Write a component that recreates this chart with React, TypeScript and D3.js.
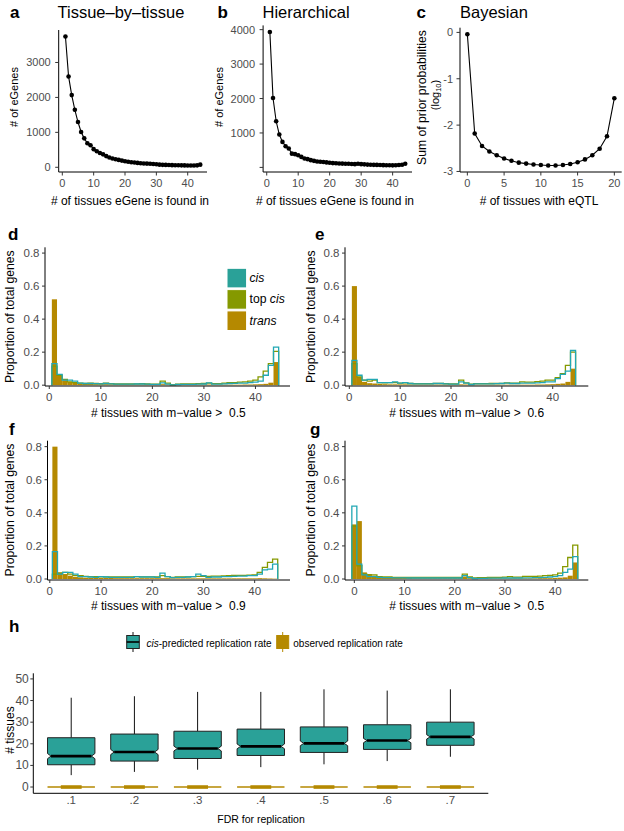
import React from "react";
import * as d3 from "d3";

const FONT = '"Liberation Sans", Arial, Helvetica, sans-serif';
const TEAL = "#2aa198";
const TEAL_LINE = "#22a8b4";
const GREEN = "#859900";
const GOLD = "#b58900";
const GREY = "#4d4d4d";

// ---------- Panel a / b / c data ----------
const tissueCountsA = [3745, 2600, 2067, 1645, 1296, 1010, 828, 690, 630, 520, 460, 410, 370, 320, 280, 250, 232, 212, 192, 172, 158, 146, 136, 126, 116, 110, 105, 100, 95, 86, 76, 70, 68, 65, 62, 60, 58, 56, 54, 52, 50, 50, 56, 76];
const tissueCountsB = [3930, 2015, 1340, 955, 740, 615, 550, 400, 385, 355, 305, 260, 240, 210, 190, 170, 165, 155, 145, 135, 125, 120, 115, 110, 105, 105, 100, 95, 105, 95, 88, 82, 78, 74, 72, 68, 66, 64, 62, 60, 62, 68, 78, 105];
const bayesTissues = [0, 1, 2, 3, 4, 5, 6, 7, 8, 9, 10, 11, 12, 13, 14, 15, 16, 17, 18, 19, 20];
const bayesLogPrior = [-0.04, -2.18, -2.45, -2.57, -2.65, -2.72, -2.77, -2.81, -2.83, -2.85, -2.86, -2.87, -2.87, -2.86, -2.84, -2.80, -2.74, -2.65, -2.51, -2.24, -1.42];

const ticksA = [0, 10, 20, 30, 40];
const ticksAy = [0, 1000, 2000, 3000];
const ticksBy = [0, 1000, 2000, 3000, 4000];
const ticksC = [0, 5, 10, 15, 20];
const ticksCy = [0, -1, -2, -3];

// ---------- Histogram data (proportion of total genes) ----------
const dTrans = [0.52, 0.06, 0.03, 0.02, 0.015, 0.01, 0.008, 0.007, 0.006, 0.006, 0.006, 0.005, 0.005, 0.005, 0.005, 0.004, 0.004, 0.004, 0.004, 0.004, 0.004, 0.006, 0.004, 0.003, 0.003, 0.003, 0.003, 0.003, 0.003, 0.003, 0.004, 0.003, 0.003, 0.003, 0.003, 0.003, 0.003, 0.004, 0.004, 0.005, 0.006, 0.008, 0.015, 0.14];
const dCis = [0.13, 0.065, 0.03, 0.03, 0.025, 0.012, 0.01, 0.01, 0.009, 0.008, 0.01, 0.008, 0.006, 0.006, 0.006, 0.006, 0.007, 0.007, 0.006, 0.005, 0.005, 0.014, 0.006, 0.002, 0.004, 0.005, 0.005, 0.005, 0.006, 0.007, 0.014, 0.006, 0.006, 0.008, 0.01, 0.011, 0.012, 0.013, 0.015, 0.018, 0.025, 0.06, 0.12, 0.23];
const dTop = [0.115, 0.06, 0.035, 0.02, 0.016, 0.012, 0.01, 0.012, 0.01, 0.009, 0.012, 0.009, 0.007, 0.007, 0.007, 0.007, 0.008, 0.009, 0.007, 0.006, 0.006, 0.025, 0.012, 0.003, 0.006, 0.007, 0.007, 0.008, 0.009, 0.01, 0.012, 0.009, 0.009, 0.013, 0.015, 0.016, 0.018, 0.02, 0.024, 0.03, 0.05, 0.085, 0.13, 0.205];

const eTrans = [0.60, 0.05, 0.02, 0.012, 0.01, 0.008, 0.006, 0.005, 0.005, 0.005, 0.005, 0.004, 0.004, 0.004, 0.004, 0.004, 0.004, 0.004, 0.004, 0.004, 0.004, 0.005, 0.004, 0.003, 0.003, 0.003, 0.003, 0.003, 0.003, 0.003, 0.003, 0.003, 0.003, 0.003, 0.003, 0.003, 0.004, 0.004, 0.005, 0.006, 0.008, 0.01, 0.02, 0.10];
const eCis = [0.15, 0.06, 0.03, 0.035, 0.035, 0.015, 0.015, 0.015, 0.02, 0.012, 0.015, 0.01, 0.008, 0.008, 0.008, 0.008, 0.01, 0.01, 0.008, 0.006, 0.006, 0.02, 0.012, 0.004, 0.008, 0.008, 0.008, 0.008, 0.009, 0.01, 0.012, 0.01, 0.01, 0.012, 0.012, 0.013, 0.014, 0.016, 0.02, 0.02, 0.04, 0.065, 0.085, 0.21];
const eTop = [0.13, 0.05, 0.03, 0.025, 0.03, 0.016, 0.014, 0.015, 0.015, 0.012, 0.014, 0.01, 0.009, 0.009, 0.009, 0.009, 0.011, 0.011, 0.009, 0.008, 0.008, 0.03, 0.014, 0.006, 0.009, 0.009, 0.009, 0.01, 0.01, 0.011, 0.014, 0.012, 0.012, 0.02, 0.018, 0.018, 0.022, 0.025, 0.03, 0.03, 0.045, 0.07, 0.12, 0.20];

const fTrans = [0.80, 0.04, 0.03, 0.02, 0.012, 0.01, 0.008, 0.007, 0.007, 0.006, 0.006, 0.006, 0.005, 0.005, 0.005, 0.005, 0.005, 0.005, 0.005, 0.005, 0.005, 0.005, 0.005, 0.004, 0.004, 0.004, 0.004, 0.004, 0.004, 0.004, 0.004, 0.004, 0.004, 0.004, 0.004, 0.004, 0.004, 0.004, 0.004, 0.004, 0.005, 0.004, 0.003, 0.002];
const fCis = [0.165, 0.03, 0.04, 0.04, 0.03, 0.015, 0.015, 0.012, 0.01, 0.015, 0.012, 0.01, 0.01, 0.01, 0.01, 0.01, 0.015, 0.012, 0.012, 0.012, 0.01, 0.035, 0.015, 0.008, 0.01, 0.01, 0.012, 0.014, 0.03, 0.02, 0.01, 0.012, 0.012, 0.014, 0.014, 0.016, 0.018, 0.018, 0.02, 0.02, 0.03, 0.055, 0.06, 0.09];
const fTop = [0.03, 0.035, 0.04, 0.03, 0.02, 0.02, 0.016, 0.015, 0.014, 0.013, 0.013, 0.012, 0.012, 0.012, 0.012, 0.012, 0.014, 0.013, 0.013, 0.013, 0.012, 0.02, 0.015, 0.01, 0.012, 0.012, 0.013, 0.015, 0.016, 0.016, 0.016, 0.017, 0.018, 0.019, 0.02, 0.022, 0.022, 0.022, 0.024, 0.025, 0.04, 0.07, 0.1, 0.12];

const gTrans = [0.33, 0.35, 0.04, 0.03, 0.02, 0.012, 0.01, 0.008, 0.007, 0.007, 0.006, 0.006, 0.005, 0.005, 0.005, 0.005, 0.005, 0.005, 0.005, 0.005, 0.005, 0.005, 0.015, 0.005, 0.004, 0.004, 0.004, 0.004, 0.004, 0.004, 0.004, 0.004, 0.004, 0.004, 0.004, 0.004, 0.004, 0.005, 0.005, 0.005, 0.006, 0.008, 0.01, 0.02, 0.10];
const gCis = [0.44, 0.09, 0.025, 0.015, 0.015, 0.01, 0.008, 0.008, 0.007, 0.007, 0.007, 0.006, 0.006, 0.006, 0.006, 0.006, 0.006, 0.006, 0.006, 0.006, 0.006, 0.006, 0.02, 0.008, 0.003, 0.004, 0.004, 0.005, 0.005, 0.005, 0.006, 0.006, 0.006, 0.006, 0.007, 0.007, 0.008, 0.008, 0.01, 0.012, 0.015, 0.02, 0.04, 0.06, 0.135];
const gTop = [0.32, 0.08, 0.03, 0.025, 0.025, 0.015, 0.012, 0.012, 0.01, 0.01, 0.01, 0.01, 0.009, 0.009, 0.009, 0.009, 0.009, 0.009, 0.009, 0.009, 0.009, 0.009, 0.03, 0.012, 0.007, 0.008, 0.008, 0.009, 0.01, 0.01, 0.011, 0.015, 0.011, 0.011, 0.016, 0.016, 0.016, 0.018, 0.02, 0.022, 0.025, 0.035, 0.075, 0.13, 0.205];

const histXTicks = [0, 10, 20, 30, 40];
const histYTicks = [0, 0.2, 0.4, 0.6, 0.8];

// ---------- Panel h data ----------
const fdrLevels = [".1", ".2", ".3", ".4", ".5", ".6", ".7"];
const cisLow = [5.5, 7, 8, 9.2, 10.5, 12, 14];
const cisQ1 = [10.3, 12, 13.2, 14.6, 16, 17.4, 19.3];
const cisMedian = [14.3, 16.2, 17.8, 18.8, 20.2, 21.5, 23.2];
const cisQ3 = [22.8, 24.5, 25.8, 26.8, 27.8, 28.8, 30];
const cisHigh = [41.3, 42, 44, 44, 45.2, 44.6, 45.2];
const cisNotch = [1.2, 1.2, 1.1, 1.1, 1.1, 1.0, 1.0];
const observedMedian = [0, 0, 0, 0, 0, 0, 0];
const hYTicks = [0, 10, 20, 30, 40, 50];

// ---------- helpers ----------
function AxisLeft({ scale, x, top, bottom, ticks, labels, font, gap, tick = 3.5 }: any) {
  return (
    <g>
      <line x1={x} x2={x} y1={top} y2={bottom} stroke="#000" strokeWidth={1} />
      {ticks.map((t: number, i: number) => (
        <g key={i}>
          <line x1={x - tick} x2={x} y1={scale(t)} y2={scale(t)} stroke="#333" strokeWidth={1} />
          {labels[i] !== "" && (
            <text x={x - gap} y={scale(t)} textAnchor="end" dominantBaseline="central" fontSize={font} fill={GREY} fontFamily={FONT}>
              {labels[i]}
            </text>
          )}
        </g>
      ))}
    </g>
  );
}

function AxisBottom({ scale, y, left, right, ticks, labels, font, base, tick = 3.5 }: any) {
  return (
    <g>
      <line x1={left} x2={right} y1={y} y2={y} stroke="#000" strokeWidth={1} />
      {ticks.map((t: any, i: number) => (
        <g key={i}>
          {tick > 0 && <line x1={scale(t)} x2={scale(t)} y1={y} y2={y + tick} stroke="#333" strokeWidth={1} />}
          <text x={scale(t)} y={y + base} textAnchor="middle" fontSize={font} fill={GREY} fontFamily={FONT}>
            {labels[i]}
          </text>
        </g>
      ))}
    </g>
  );
}

function expandDomain(vals: number[]) {
  const [lo, hi] = d3.extent(vals) as [number, number];
  const r = hi - lo;
  return [lo - 0.05 * r, hi + 0.05 * r];
}

function LinePanel({ xs, ys, left, right, top, bottom, xDomain, yDomain, xTicks, yTicks, yLabels, tickFont, gap }: any) {
  const sx = d3.scaleLinear().domain(xDomain).range([left, right]);
  const sy = d3.scaleLinear().domain(yDomain).range([bottom, top]);
  const line = d3.line<number>().x((_, i) => sx(xs[i])).y((d) => sy(d));
  return (
    <g>
      <path d={line(ys) || ""} fill="none" stroke="#000" strokeWidth={1.1} />
      {ys.map((v: number, i: number) => (
        <circle key={i} cx={sx(xs[i])} cy={sy(v)} r={2.3} fill="#000" />
      ))}
      <AxisLeft scale={sy} x={left} top={top} bottom={bottom} ticks={yTicks} labels={yLabels} font={tickFont} gap={gap} />
      <AxisBottom scale={sx} y={bottom} left={left} right={right} ticks={xTicks} labels={xTicks.map(String)} font={tickFont} base={14.7} />
    </g>
  );
}

function HistPanel({ start, trans, cis, top: topCis, left, right, topY, bottomY, xDomain, yDomain }: any) {
  const sx = d3.scaleLinear().domain(xDomain).range([left, right]);
  const sy = d3.scaleLinear().domain(yDomain).range([bottomY, topY]);
  const stepPath = (vals: number[]) => {
    const pts: [number, number][] = [[start - 0.5, 0]];
    vals.forEach((v, i) => pts.push([start + i - 0.5, v]));
    const last = start + vals.length - 0.5;
    pts.push([last, vals[vals.length - 1]]);
    pts.push([last, 0]);
    return d3.line<[number, number]>().x((p) => sx(p[0])).y((p) => sy(p[1])).curve(d3.curveStepAfter)(pts) || "";
  };
  return (
    <g>
      {trans.map((v: number, i: number) => (
        <rect key={i} x={sx(start + i - 0.5)} width={sx(start + i + 0.5) - sx(start + i - 0.5)} y={sy(v)} height={sy(0) - sy(v)} fill={GOLD} />
      ))}
      <path d={stepPath(topCis)} fill="none" stroke={GREEN} strokeWidth={1.3} />
      <path d={stepPath(cis)} fill="none" stroke={TEAL_LINE} strokeWidth={1.3} />
      <AxisLeft scale={sy} x={left} top={topY} bottom={bottomY} ticks={histYTicks} labels={histYTicks.map((t) => t.toFixed(1))} font={11.5} gap={5.5} tick={3} />
      <AxisBottom scale={sx} y={bottomY} left={left} right={right} ticks={histXTicks} labels={histXTicks.map(String)} font={11.5} base={14.5} tick={3} />
    </g>
  );
}

function Txt({ x, y, size, children, anchor = "start", weight = "normal", rotate = false, fill = "#000" }: any) {
  if (rotate) {
    return (
      <text transform={`translate(${x},${y}) rotate(-90)`} textAnchor="middle" dominantBaseline="central" fontSize={size} fontFamily={FONT} fontWeight={weight} fill={fill}>
        {children}
      </text>
    );
  }
  return (
    <text x={x} y={y} textAnchor={anchor} fontSize={size} fontFamily={FONT} fontWeight={weight} fill={fill}>
      {children}
    </text>
  );
}

function BoxPanel() {
  const left = 33.3, right = 488.3, top = 673.3, bottom = 793.3;
  const sx = d3.scalePoint<string>().domain(fdrLevels).range([left, right]).padding(0.6);
  const sy = d3.scaleLinear().domain([-2.9, 52.6]).range([bottom, top]);
  const w = sx.step() * 0.75;
  const inset = 3.5;
  return (
    <g>
      {fdrLevels.map((f, i) => {
        const cx = sx(f) as number;
        const xl = cx - w / 2, xr = cx + w / 2;
        const m = cisMedian[i], n = cisNotch[i];
        const path = [
          `M${xl},${sy(cisQ3[i])}`, `H${xr}`, `V${sy(m + n)}`, `L${xr - inset},${sy(m)}`, `L${xr},${sy(m - n)}`,
          `V${sy(cisQ1[i])}`, `H${xl}`, `V${sy(m - n)}`, `L${xl + inset},${sy(m)}`, `L${xl},${sy(m + n)}`, "Z",
        ].join("");
        const oy = sy(observedMedian[i]);
        return (
          <g key={f}>
            <line x1={cx} x2={cx} y1={sy(cisQ3[i])} y2={sy(cisHigh[i])} stroke="#111" strokeWidth={1} />
            <line x1={cx} x2={cx} y1={sy(cisQ1[i])} y2={sy(cisLow[i])} stroke="#111" strokeWidth={1} />
            <path d={path} fill={TEAL} stroke="#222" strokeWidth={1} />
            <line x1={xl + inset} x2={xr - inset} y1={sy(m)} y2={sy(m)} stroke="#000" strokeWidth={2.6} />
            <line x1={xl} x2={xr} y1={oy} y2={oy} stroke={GOLD} strokeWidth={1.4} />
            <line x1={cx - w * 0.22} x2={cx + w * 0.22} y1={oy} y2={oy} stroke={GOLD} strokeWidth={3.6} />
          </g>
        );
      })}
      <AxisLeft scale={sy} x={left} top={top} bottom={bottom} ticks={hYTicks} labels={hYTicks.map(String)} font={12} gap={4.5} tick={3} />
      <AxisBottom scale={sx} y={bottom} left={left} right={right} ticks={fdrLevels} labels={fdrLevels} font={11.5} base={10.5} tick={0} />
      <Txt x={9.5} y={730} size={12} rotate>
        # tissues
      </Txt>
      <Txt x={261} y={823} size={10.5} anchor="middle">
        FDR for replication
      </Txt>
      {/* legend */}
      <g>
        <line x1={133} x2={133} y1={632} y2={652} stroke="#111" strokeWidth={1} />
        <rect x={126.7} y={635.5} width={12.6} height={13} fill={TEAL} stroke="#222" strokeWidth={1} />
        <line x1={126.7} x2={139.3} y1={642} y2={642} stroke="#000" strokeWidth={1.6} />
        <text x={146.5} y={646.5} fontSize={10} fontFamily={FONT}>
          <tspan fontStyle="italic">cis</tspan>-predicted replication rate
        </text>
        <line x1={282.7} x2={282.7} y1={632} y2={652} stroke={GOLD} strokeWidth={1} />
        <rect x={276.7} y={635.5} width={12} height={13} fill={GOLD} stroke={GOLD} strokeWidth={1} />
        <text x={293.3} y={646.5} fontSize={10} fontFamily={FONT}>
          observed replication rate
        </text>
      </g>
    </g>
  );
}

export default function App() {
  const xsA = tissueCountsA.map((_, i) => i + 1);
  const xsB = tissueCountsB.map((_, i) => i + 1);
  const xDomAB = expandDomain(xsA);
  const histLabel = (x: number, y: number, thr: string) => (
    <Txt x={x} y={y} size={12} anchor="middle">
      {"# tissues with m\u2212value >\u00a0 " + thr}
    </Txt>
  );
  const propLabel = (x: number, y: number) => (
    <Txt x={x} y={y} size={12.2} rotate>
      Proportion of total genes
    </Txt>
  );
  return (
    <svg width={624} height={831} style={{ position: "absolute", left: 0, top: 0, background: "#fff" }}>
      <rect x={0} y={0} width={624} height={831} fill="#fff" />
      {/* panel a */}
      <Txt x={10} y={18} size={17} weight="bold">a</Txt>
      <Txt x={57.5} y={17.5} size={16.5}>Tissue–by–tissue</Txt>
      <LinePanel xs={xsA} ys={tissueCountsA} left={58.7} right={207} top={30} bottom={172} xDomain={xDomAB} yDomain={expandDomain(tissueCountsA)} xTicks={ticksA} yTicks={ticksAy} yLabels={ticksAy.map(String)} tickFont={11} gap={8} />
      <Txt x={14} y={97} size={11} rotate># of eGenes</Txt>
      <Txt x={130} y={205} size={12} anchor="middle"># of tissues eGene is found in</Txt>

      {/* panel b */}
      <Txt x={217.5} y={18} size={17} weight="bold">b</Txt>
      <Txt x={262.5} y={17.5} size={16.5}>Hierarchical</Txt>
      <LinePanel xs={xsB} ys={tissueCountsB} left={263.1} right={412} top={25.4} bottom={172} xDomain={xDomAB} yDomain={expandDomain(tissueCountsB)} xTicks={ticksA} yTicks={ticksBy} yLabels={["", "1000", "2000", "3000", "4000"]} tickFont={11} gap={8} />
      <Txt x={218.5} y={97} size={11} rotate># of eGenes</Txt>
      <Txt x={335} y={205} size={12} anchor="middle"># of tissues eGene is found in</Txt>

      {/* panel c */}
      <Txt x={416.5} y={18} size={17} weight="bold">c</Txt>
      <Txt x={460} y={17.5} size={16.5}>Bayesian</Txt>
      <LinePanel xs={bayesTissues} ys={bayesLogPrior} left={460} right={621.7} top={27.7} bottom={172} xDomain={expandDomain(bayesTissues)} yDomain={expandDomain(bayesLogPrior)} xTicks={ticksC} yTicks={ticksCy} yLabels={ticksCy.map(String)} tickFont={11} gap={7} />
      <Txt x={421.7} y={97.5} size={12.2} rotate>Sum of prior probabilities</Txt>
      <text transform="translate(435,95) rotate(-90)" textAnchor="middle" dominantBaseline="central" fontSize={11} fontFamily={FONT}>
        (log<tspan fontSize={7.5} dy={2.5}>10</tspan><tspan dy={-2.5}>)</tspan>
      </text>
      <Txt x={539} y={205} size={12} anchor="middle"># of tissues with eQTL</Txt>

      {/* panel d */}
      <Txt x={8} y={240} size={17} weight="bold">d</Txt>
      <HistPanel start={1} trans={dTrans} cis={dCis} top={dTop} left={45} right={290} topY={247.3} bottomY={386} xDomain={[-0.83, 46.7]} yDomain={[-0.005, 0.835]} />
      {propLabel(10, 316.7)}
      {histLabel(168.3, 416.5, "0.5")}
      <g>
        <rect x={227} y={268.3} width={19.6} height={19.6} fill={TEAL} stroke="#fff" strokeWidth={1} />
        <rect x={227} y={289.6} width={19.6} height={19.6} fill={GREEN} stroke="#fff" strokeWidth={1} />
        <rect x={227} y={310.9} width={19.6} height={19.6} fill={GOLD} stroke="#fff" strokeWidth={1} />
        <text x={249.5} y={278.1} dominantBaseline="central" fontSize={12.2} fontFamily={FONT} fontStyle="italic">cis</text>
        <text x={249.5} y={299.4} dominantBaseline="central" fontSize={12.2} fontFamily={FONT}>
          top <tspan fontStyle="italic">cis</tspan>
        </text>
        <text x={249.5} y={320.7} dominantBaseline="central" fontSize={12.2} fontFamily={FONT} fontStyle="italic">trans</text>
      </g>

      {/* panel e */}
      <Txt x={315} y={240} size={17} weight="bold">e</Txt>
      <HistPanel start={1} trans={eTrans} cis={eCis} top={eTop} left={345} right={588.3} topY={247.3} bottomY={386} xDomain={[-0.85, 47.0]} yDomain={[-0.005, 0.835]} />
      {propLabel(310.5, 316.7)}
      {histLabel(466.7, 416.5, "0.6")}

      {/* panel f */}
      <Txt x={9} y={435} size={17} weight="bold">f</Txt>
      <HistPanel start={1} trans={fTrans} cis={fCis} top={fTop} left={47.5} right={290} topY={440.7} bottomY={580} xDomain={[-0.45, 46.9]} yDomain={[-0.006, 0.836]} />
      {propLabel(10, 510)}
      {histLabel(168.3, 610, "0.9")}

      {/* panel g */}
      <Txt x={310} y={435} size={17} weight="bold">g</Txt>
      <HistPanel start={0} trans={gTrans} cis={gCis} top={gTop} left={345} right={588.3} topY={440.7} bottomY={580} xDomain={[-1.86, 46.6]} yDomain={[-0.006, 0.836]} />
      {propLabel(310.5, 510)}
      {histLabel(466.7, 610, "0.5")}

      {/* panel h */}
      <Txt x={9} y={631.5} size={17} weight="bold">h</Txt>
      <BoxPanel />
    </svg>
  );
}
